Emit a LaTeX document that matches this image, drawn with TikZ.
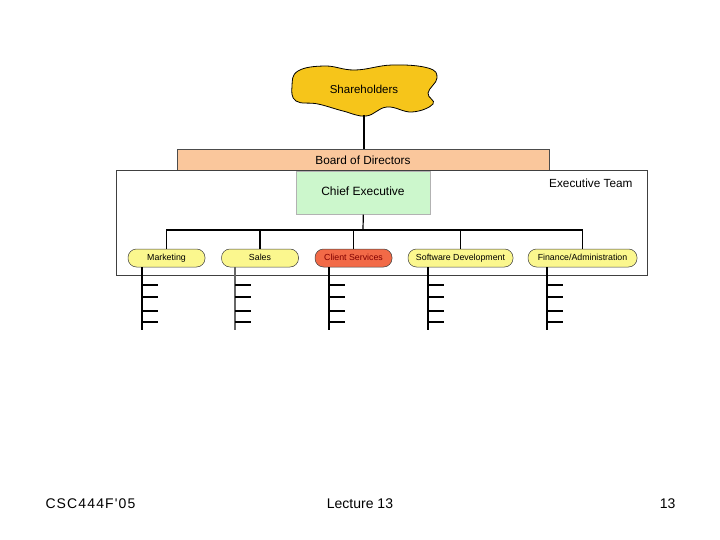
\documentclass[tikz,border=0pt]{standalone}
\usepackage{fontspec}
\setmainfont{Liberation Sans}
\begin{document}
\begin{tikzpicture}[x=1pt,y=-1pt,
  box/.style={draw=black!70, line width=0.6pt, inner sep=0pt},
  pill/.style={draw=black!75, line width=0.5pt, rounded corners=8.5pt, fill=pillyellow, minimum height=18pt, inner sep=0pt, text height=6.5pt, text depth=1.8pt, font=\fontsize{8.8}{10}\selectfont},
  conn/.style={draw=black, line width=1.2pt},
  tick/.style={draw=black, line width=1.1pt}]
\definecolor{cloudyellow}{HTML}{F6C51A}
\definecolor{boardorange}{HTML}{FAC79C}
\definecolor{cegreen}{HTML}{CCF7CC}
\definecolor{pillyellow}{HTML}{FBF78E}
\definecolor{clientred}{HTML}{F26A47}
\useasboundingbox (0,0) rectangle (720,540);
% cloud
\draw[fill=cloudyellow, draw=black, line width=0.8pt] plot[smooth cycle, tension=0.7] coordinates {
 (298,71) (325,66) (355,70) (392,65) (428,68) (437,78) (428,93) (433,104) (412,112) (387,107) (366,116) (343,111) (318,104) (296,101) (292,86)};
\node (sh) at (364,89) {\fontsize{11.5}{13}\selectfont Shareholders};
\coordinate (shb) at (364,115);
% board
\node[box, fill=boardorange, minimum width=372pt, minimum height=21pt, anchor=north west] (bod) at (177,149) {};
\node[font=\fontsize{11.8}{13}\selectfont] (bodt) at (363,160) {Board of Directors};
\draw[conn] (shb) -- (shb |- bod.north);
% executive team
\node[box, draw=black!75, line width=0.8pt, minimum width=531pt, minimum height=105pt, anchor=north west] (et) at (116,170) {};
\node[font=\fontsize{11.8}{13}\selectfont, anchor=east] (ett) at (636,183) {Executive Team};
\node[box, draw=black!30, fill=cegreen, minimum width=134pt, minimum height=43pt, anchor=north west] (ce) at (296,171) {};
\node[font=\fontsize{12}{13}\selectfont] (cet) at (363,191) {Chief Executive};
% pills
\node[pill, minimum width=77pt] (mk) at (166.5,258) {Marketing};
\node[pill, minimum width=77pt] (sa) at (260,258) {Sales};
\node[pill, minimum width=77pt, fill=clientred, text=red!50!black] (cs) at (353.5,258) {Client Services};
\node[pill, minimum width=105pt] (sd) at (460.5,258) {Software Development};
\node[pill, minimum width=109pt] (fa) at (582.5,258) {Finance/Administration};
\coordinate (bar) at (363,230);
\draw[conn] (ce.south) -- (bar);
\draw[conn] (mk.north) -- (mk.north |- bar) -- (fa.north |- bar) -- (fa.north);
\draw[conn] (sa.north) -- (sa.north |- bar);
\draw[conn] (cs.north) -- (cs.north |- bar);
\draw[conn] (sd.north) -- (sd.north |- bar);
% sub-lines
\foreach \p/\x/\c in {mk/142/black, sa/235/black!60, cs/329/black, sd/428/black, fa/547/black}{
  \coordinate (\p v) at (\x,267);
  \draw[tick, draw=\c] (\p v) -- ++(0,63);
  \foreach \y in {285,297,311,322}{
    \draw[tick] (\x,\y) -- ++(16,0);
  }
}
% footer
\node[font=\fontsize{14}{16}\selectfont\addfontfeature{LetterSpace=8,Ligatures=TeXOff}, anchor=west] (f1) at (42,504) {CSC444F'05};
\node[font=\fontsize{14}{16}\selectfont] (f2) at (360,504) {Lecture 13};
\node[font=\fontsize{14}{16}\selectfont, anchor=east] (f3) at (679,504) {13};
\end{tikzpicture}
\end{document}
